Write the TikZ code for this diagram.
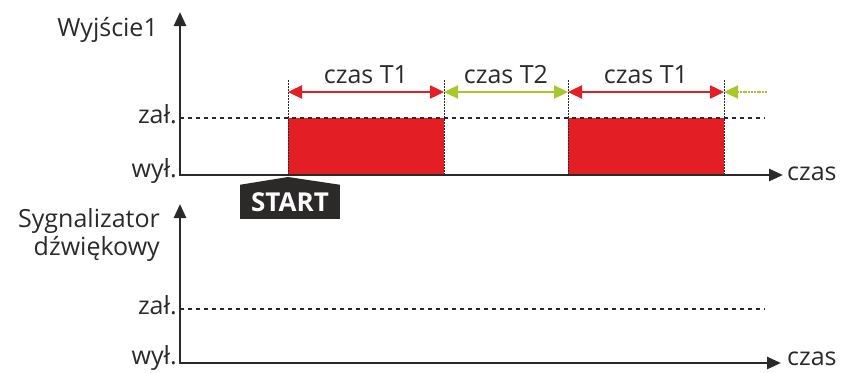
\documentclass[tikz,border=0pt]{standalone}
\usepackage{fontspec}
\setmainfont{Open Sans}
\usetikzlibrary{arrows.meta, positioning, calc}
\definecolor{pulsered}{HTML}{E31E24}
\definecolor{pausegreen}{HTML}{A8C82A}
\definecolor{inkgray}{HTML}{2B2A29}

\begin{document}
\begin{tikzpicture}[x=1pt, y=-1pt,
    axis/.style={{Triangle[length=14pt,width=12pt]}-{Triangle[length=14pt,width=12pt]}, line width=2.6pt, draw=inkgray, line join=miter},
    level/.style={dash pattern=on 4pt off 4pt, line width=1.2pt, draw=inkgray},
    guide/.style={dash pattern=on 1.5pt off 1.5pt, line width=0.9pt, draw=inkgray},
    pulse/.style={fill=pulsered, draw=none},
    span/.style={{Triangle[length=14pt,width=13pt]}-{Triangle[length=14pt,width=13pt]}, line width=2.4pt},
    lbl/.style={font=\fontsize{25}{28}\selectfont, text=inkgray, inner sep=0pt},
    startbox/.style={fill=inkgray, text=white, font=\fontsize{26}{28}\selectfont\bfseries, minimum width=100pt, minimum height=34pt, inner sep=0pt}
]
    \useasboundingbox (0,0) rectangle (843,372);

    % Wyjscie1 timing
    \coordinate (y1) at (180,12);
    \coordinate (o1) at (180,175);
    \coordinate (x1) at (783,175);
    \fill[pulse] (288,118) rectangle (444,175);
    \fill[pulse] (568,118) rectangle (724,175);
    \draw[level] (180,118) -- (765,118);
    \foreach \t in {288,444,568,724}
        \draw[guide] (\t,80) -- (\t,175);
    \draw[axis] (y1) -- (o1) -- (x1);

    \node[lbl, anchor=base east] (out1) at (158,36) {Wyjście1};
    \node[lbl, anchor=base east] (on1) at (177,123) {zał.};
    \node[lbl, anchor=base east] (off1) at (177,177) {wył.};
    \node[lbl, anchor=base west] (time1) at (787,180) {czas};

    % Time spans
    \coordinate (s0) at (288,92);
    \coordinate (s1) at (444,92);
    \coordinate (s2) at (568,92);
    \coordinate (s3) at (724,92);
    \coordinate (s4) at (767,92);
    \draw[span, pulsered] (s0) -- (s1);
    \draw[span, pausegreen] (s1) -- (s2);
    \draw[span, pulsered] (s2) -- (s3);
    \draw[pausegreen, line width=2.4pt, dash pattern=on 2pt off 0.8pt, -{Triangle[length=14pt,width=13pt]}] (s4) -- (s3);
    \node[lbl, anchor=base] (span1) at (366,83) {czas T1};
    \node[lbl, anchor=base] (span2) at (506,83) {czas T2};
    \node[lbl, anchor=base] (span3) at (646,83) {czas T1};

    % START marker
    \node[startbox] (start) at (290,202) {START};
    \fill[inkgray] (start.north west) -- (288,177) -- (start.north east) -- cycle;

    % Sygnalizator dzwiekowy timing
    \coordinate (y2) at (180,204);
    \coordinate (o2) at (180,363);
    \coordinate (x2) at (781,363);
    \draw[level] (180,309) -- (765,309);
    \draw[axis] (y2) -- (o2) -- (x2);

    \node[lbl, anchor=base east] (out2a) at (160,227) {Sygnalizator};
    \node[lbl, anchor=base east] (out2b) at (160,255) {dźwiękowy};
    \node[lbl, anchor=base east] (on2) at (177,314) {zał.};
    \node[lbl, anchor=base east] (off2) at (177,364) {wył.};
    \node[lbl, anchor=base west] (time2) at (787,365) {czas};
\end{tikzpicture}
\end{document}
